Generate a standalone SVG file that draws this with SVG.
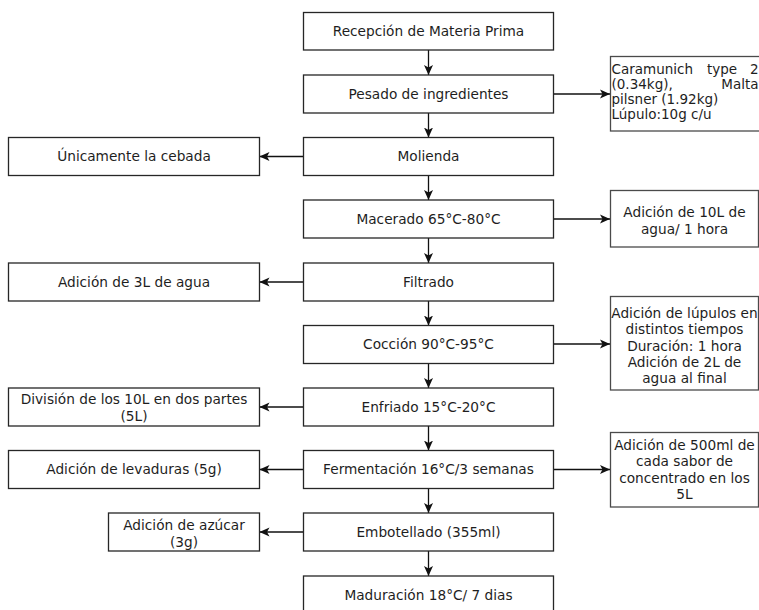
<svg xmlns="http://www.w3.org/2000/svg" width="759" height="610" viewBox="0 0 759 610">
  <style>
    .box { fill: #ffffff; stroke: #262626; stroke-width: 1.3; }
    .side { fill: #ffffff; stroke: #4a4a4a; stroke-width: 1.3; }
    .lbl { font-family: "DejaVu Sans", Verdana, sans-serif; font-size: 13.7px; fill: #1e1e1e; text-anchor: middle; }
    .lft { font-family: "DejaVu Sans", Verdana, sans-serif; font-size: 13.5px; fill: #1e1e1e; }
    .edge { fill: none; stroke: #111111; stroke-width: 1.3; }
  </style>
  <defs>
    <marker id="arrow" viewBox="0 0 10 10" refX="10" refY="5" markerWidth="10" markerHeight="10" markerUnits="userSpaceOnUse" orient="auto">
      <path d="M0,0.5 L10,5 L0,9.5 L2.5,5 Z" fill="#111111"/>
    </marker>
  </defs>
  <rect width="759" height="610" fill="#ffffff"/>

  <!-- connectors -->
  <g id="connectors">
    <path class="edge" d="M428.5,50 V75" marker-end="url(#arrow)"/>
    <path class="edge" d="M428.5,113 V137.5" marker-end="url(#arrow)"/>
    <path class="edge" d="M428.5,175.5 V200" marker-end="url(#arrow)"/>
    <path class="edge" d="M428.5,238 V263" marker-end="url(#arrow)"/>
    <path class="edge" d="M428.5,301 V325.5" marker-end="url(#arrow)"/>
    <path class="edge" d="M428.5,363.5 V388" marker-end="url(#arrow)"/>
    <path class="edge" d="M428.5,426 V450.5" marker-end="url(#arrow)"/>
    <path class="edge" d="M428.5,488.5 V513" marker-end="url(#arrow)"/>
    <path class="edge" d="M428.5,551 V576" marker-end="url(#arrow)"/>

    <path class="edge" d="M553.5,94 H610" marker-end="url(#arrow)"/>
    <path class="edge" d="M553.5,219 H610" marker-end="url(#arrow)"/>
    <path class="edge" d="M553.5,344 H610" marker-end="url(#arrow)"/>
    <path class="edge" d="M553.5,469.5 H610" marker-end="url(#arrow)"/>

    <path class="edge" d="M303.5,156.5 H259.5" marker-end="url(#arrow)"/>
    <path class="edge" d="M303.5,282 H259.5" marker-end="url(#arrow)"/>
    <path class="edge" d="M303.5,407 H259.5" marker-end="url(#arrow)"/>
    <path class="edge" d="M303.5,469.5 H259.5" marker-end="url(#arrow)"/>
    <path class="edge" d="M303.5,532 H259.5" marker-end="url(#arrow)"/>
  </g>

  <!-- main process column -->
  <g id="recepcion">
    <rect class="box" x="303.5" y="12.5" width="250" height="37.5"/>
    <text class="lbl" x="428.5" y="36">Recepción de Materia Prima</text>
  </g>
  <g id="pesado">
    <rect class="box" x="303.5" y="75" width="250" height="38"/>
    <text class="lbl" x="428.5" y="98.5">Pesado de ingredientes</text>
  </g>
  <g id="molienda">
    <rect class="box" x="303.5" y="137.5" width="250" height="38"/>
    <text class="lbl" x="428.5" y="161">Molienda</text>
  </g>
  <g id="macerado">
    <rect class="box" x="303.5" y="200" width="250" height="38"/>
    <text class="lbl" x="428.5" y="223.5">Macerado 65°C-80°C</text>
  </g>
  <g id="filtrado">
    <rect class="box" x="303.5" y="263" width="250" height="38"/>
    <text class="lbl" x="428.5" y="286.5">Filtrado</text>
  </g>
  <g id="coccion">
    <rect class="box" x="303.5" y="325.5" width="250" height="38"/>
    <text class="lbl" x="428.5" y="349">Cocción 90°C-95°C</text>
  </g>
  <g id="enfriado">
    <rect class="box" x="303.5" y="388" width="250" height="38"/>
    <text class="lbl" x="428.5" y="411.5">Enfriado 15°C-20°C</text>
  </g>
  <g id="fermentacion">
    <rect class="box" x="303.5" y="450.5" width="250" height="38"/>
    <text class="lbl" x="428.5" y="474">Fermentación 16°C/3 semanas</text>
  </g>
  <g id="embotellado">
    <rect class="box" x="303.5" y="513" width="250" height="38"/>
    <text class="lbl" x="428.5" y="536.5">Embotellado (355ml)</text>
  </g>
  <g id="maduracion">
    <rect class="box" x="303.5" y="576" width="250" height="38"/>
    <text class="lbl" x="428.5" y="599.5">Maduración 18°C/ 7 dias</text>
  </g>

  <!-- left-hand notes -->
  <g id="cebada">
    <rect class="box" x="8.5" y="137.5" width="251" height="38"/>
    <text class="lbl" x="134" y="161">Únicamente la cebada</text>
  </g>
  <g id="agua3l">
    <rect class="box" x="8.5" y="263" width="251" height="38"/>
    <text class="lbl" x="134" y="286.5">Adición de 3L de agua</text>
  </g>
  <g id="division">
    <rect class="box" x="8.5" y="388" width="251" height="38"/>
    <text class="lbl" x="134" y="403.5">División de los 10L en dos partes</text>
    <text class="lbl" x="134" y="420.5">(5L)</text>
  </g>
  <g id="levaduras">
    <rect class="box" x="8.5" y="450.5" width="251" height="38"/>
    <text class="lbl" x="134" y="474">Adición de levaduras (5g)</text>
  </g>
  <g id="azucar">
    <rect class="box" x="108.5" y="513" width="151" height="38"/>
    <text class="lbl" x="184" y="529.5">Adición de azúcar</text>
    <text class="lbl" x="184" y="547">(3g)</text>
  </g>

  <!-- right-hand notes -->
  <g id="ingredientes">
    <rect class="side" x="610.5" y="56.5" width="160" height="74.5"/>
    <text class="lft" x="611.5" y="73.5">Caramunich</text>
    <text class="lft" x="707" y="73.5">type</text>
    <text class="lft" x="758.5" y="73.5" text-anchor="end">2</text>
    <text class="lft" x="611.5" y="88.5">(0.34kg),</text>
    <text class="lft" x="758.5" y="88.5" text-anchor="end">Malta</text>
    <text class="lft" x="611.5" y="103.5">pilsner (1.92kg)</text>
    <text class="lft" x="611.5" y="118.5">Lúpulo:10g c/u</text>
  </g>
  <g id="agua10l">
    <rect class="side" x="610.5" y="190.5" width="148" height="56.5"/>
    <text class="lbl" x="684.5" y="216.5">Adición de 10L de</text>
    <text class="lbl" x="684.5" y="233.5">agua/ 1 hora</text>
  </g>
  <g id="lupulos">
    <rect class="side" x="610.5" y="296.5" width="148" height="93.5"/>
    <text class="lbl" x="684.5" y="317.5">Adición de lúpulos en</text>
    <text class="lbl" x="684.5" y="334">distintos tiempos</text>
    <text class="lbl" x="684.5" y="350.5">Duración: 1 hora</text>
    <text class="lbl" x="684.5" y="367">Adición de 2L de</text>
    <text class="lbl" x="684.5" y="383">agua al final</text>
  </g>
  <g id="sabor">
    <rect class="side" x="610.5" y="432.5" width="148" height="74.5"/>
    <text class="lbl" x="684.5" y="449.5">Adición de 500ml de</text>
    <text class="lbl" x="684.5" y="466">cada sabor de</text>
    <text class="lbl" x="684.5" y="482.5">concentrado en los</text>
    <text class="lbl" x="684.5" y="499">5L</text>
  </g>
</svg>
